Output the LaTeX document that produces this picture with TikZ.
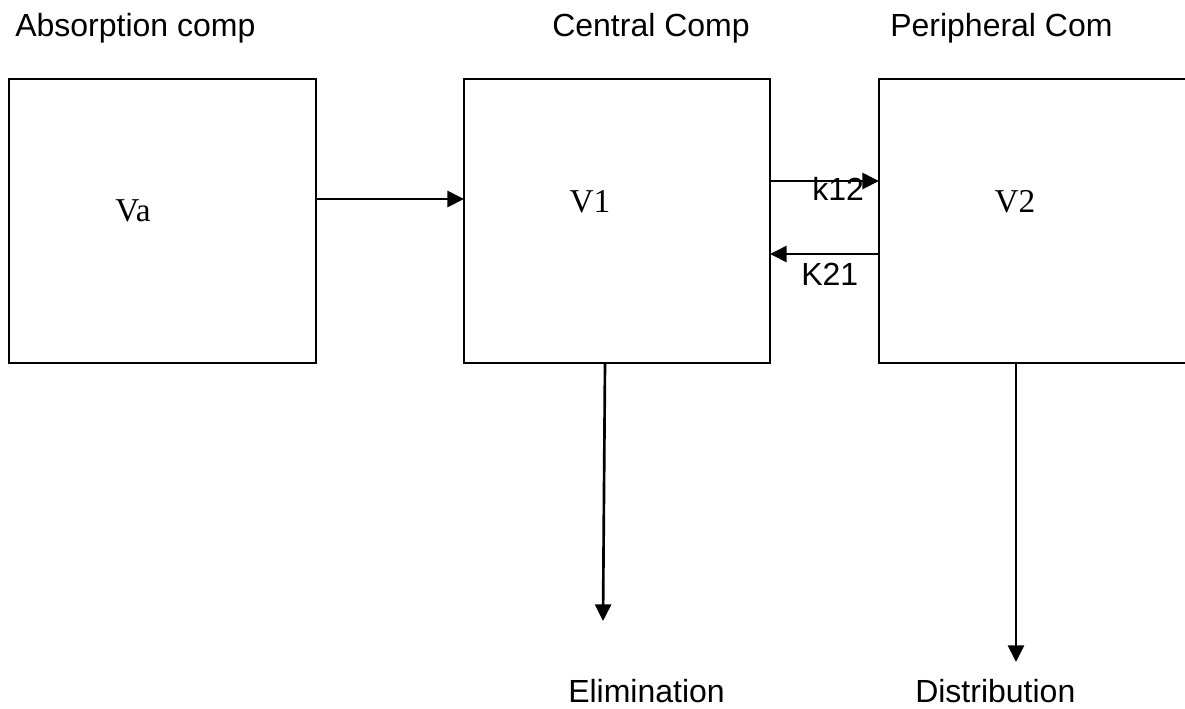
\documentclass[tikz,border=0pt]{standalone}
\usepackage{fontspec}
\setmainfont{Liberation Serif}
\newfontfamily\arialfont{Liberation Sans}
\usetikzlibrary{arrows.meta}
\begin{document}
\begin{tikzpicture}[x=0.75pt,y=-0.75pt,
  compbox/.style={draw,line width=2pt,inner sep=0pt,outer sep=0pt,minimum height=213pt},
  arr/.style={line width=2pt,-{Triangle[length=12.5pt,width=12pt]}},
  heading/.style={anchor=base west,inner sep=0pt,font=\arialfont\fontsize{24}{28}\selectfont},
  vlabel/.style={inner sep=0pt,font=\fontsize{25}{29}\selectfont},
  klabel/.style={anchor=base west,inner sep=0pt,font=\arialfont\fontsize{24}{28}\selectfont}]
\useasboundingbox (0,0) rectangle (1185,708);
\clip (0,0) rectangle (1185,708);
% boxes
\node[compbox,minimum width=230.25pt] (A) at (162.5,221) {};
\node[compbox,minimum width=229.5pt] (B) at (617,221) {};
\node[compbox,minimum width=278.25pt] (C) at (1064.5,221) {};
% inner labels
\node[vlabel] (va) at (133,211) {Va};
\node[vlabel] (v1) at (590,202) {V1};
\node[vlabel] (v2) at (1015,202) {V2};
% headings
\node[heading] (h1) at (15,36) {Absorption comp};
\node[heading] (h2) at (552,36) {Central Comp};
\node[heading] (h3) at (890,36) {Peripheral Com};
\node[heading] (h4) at (568,702) {Elimination};
\node[heading] (h5) at (915,702) {Distribution};
% k labels
\node[klabel] (k12) at (812,200) {k12};
\node[klabel] (k21) at (801,285) {K21};
% connectors
\draw[arr] ([yshift=16.5pt]A.east) -- ([yshift=16.5pt]B.west);
\draw[arr] ([yshift=30pt]B.east) -- ([yshift=30pt]C.west);
\draw[arr] ([yshift=-24.75pt]C.west) -- ([yshift=-24.75pt]B.east);
\coordinate (elim) at (603,621);
\coordinate (dist) at (1016,662);
\draw[arr] ([xshift=-9pt]B.south) -- (elim);
\draw[arr] ([xshift=102.75pt]C.south west) -- (dist);
\end{tikzpicture}
\end{document}
